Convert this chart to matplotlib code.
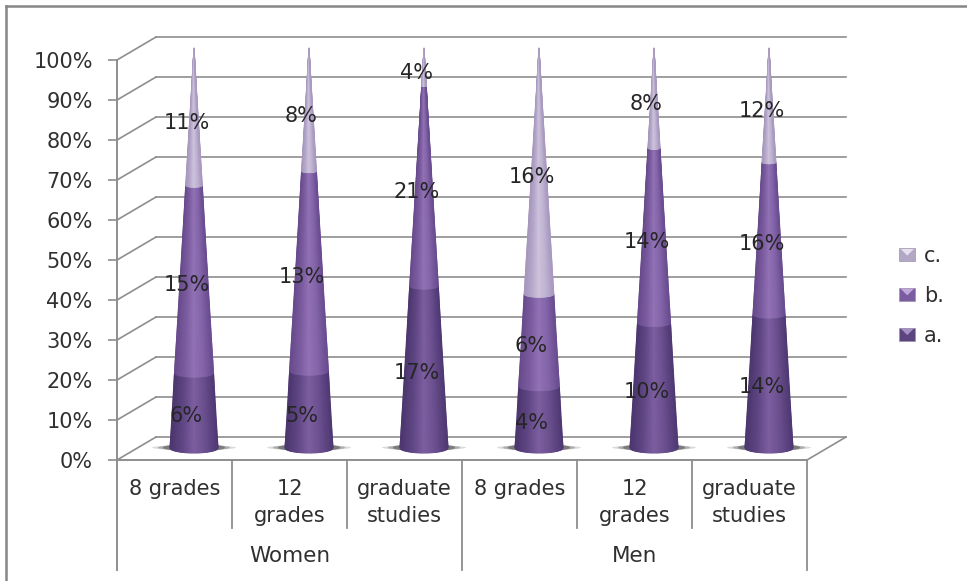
# -*- coding: utf-8 -*-
"""
plot.py: 100% stacked cones, with a fake 3D box drawn by hand
"""

import numpy as np
import matplotlib
matplotlib.use('Agg')
from matplotlib import pyplot as plt
from matplotlib.colors import LinearSegmentedColormap
from matplotlib.legend_handler import HandlerBase
from matplotlib.lines import Line2D
from matplotlib.patches import Ellipse, Polygon, Rectangle

groups = ['Women', 'Men']
categories = ['8 grades', '12\ngrades', 'graduate\nstudies',
              '8 grades', '12\ngrades', 'graduate\nstudies']
series_names = ['a.', 'b.', 'c.']
a_values = [6, 5, 17, 4, 10, 14]
b_values = [15, 13, 21, 6, 14, 16]
c_values = [11, 8, 4, 16, 8, 12]
y_ticks = [0, 10, 20, 30, 40, 50, 60, 70, 80, 90, 100]

W, H = 967, 581
PX_X = 115.0  # pixels per category
PX_Y = 4.0    # pixels per percent
GREY = '#8e8e8e'
TEXT = '#303030'
FS = 15

# edge, middle, edge colours of each series
shades = {
    'a.': ['#4c366e', '#5f4684', '#7d5fa1', '#6a4f8e', '#4f3973'],
    'b.': ['#674a8c', '#7a5b9f', '#9272b5', '#8465a9', '#6a4c90'],
    'c.': ['#a596bd', '#b5a8ca', '#cdc3dc', '#c0b4d2', '#a899c0'],
}

fig = plt.figure(figsize=(W / 100, H / 100), dpi=100)
ax = fig.add_axes([117 / W, 1 - 460 / H, 690 / W, 400 / H])
ax.set_xlim(0, 6)
ax.set_ylim(0, 100)
ax.patch.set_alpha(0)

# outer frame, only left and top are visible
fig.add_artist(Line2D([6 / W, 6 / W], [0, 1 - 6 / H], color='#868686', lw=1.8))
fig.add_artist(Line2D([6 / W, 1], [1 - 6 / H, 1 - 6 / H], color='#868686', lw=1.8))

# depth of the box
dx = 39 / PX_X
dy = 23 / PX_Y

# back wall, side wall and floor
for t in y_ticks:
    ax.plot([dx, 6 + dx], [t + dy, t + dy], color=GREY, lw=1.2, clip_on=False, zorder=1)
    ax.plot([0, dx], [t, t + dy], color=GREY, lw=1.2, clip_on=False, zorder=1)
ax.plot([6, 6 + dx], [0, dy], color=GREY, lw=1.2, clip_on=False, zorder=1)

# left axis and front edge
for name in ['top', 'right']:
    ax.spines[name].set_visible(False)
ax.spines['left'].set_color(GREY)
ax.spines['left'].set_linewidth(1.4)
ax.spines['left'].set_bounds(-27.5, 100)
ax.spines['bottom'].set_color(GREY)
ax.spines['bottom'].set_linewidth(1.4)
ax.set_yticks(y_ticks)
ax.set_yticklabels(['%d%%' % t for t in y_ticks], fontsize=FS, color=TEXT)
ax.tick_params(axis='y', length=6.5, width=1.2, color=GREY, pad=11)
ax.set_xticks([])

# two level category axis
for i in range(1, 7):
    low = -27.5 if i in (3, 6) else -17
    ax.plot([i, i], [0, low], color=GREY, lw=1.3, clip_on=False)
for i, label in enumerate(categories):
    ax.text(i + 0.5, -4.8, label, ha='center', va='top', fontsize=FS, color=TEXT,
            linespacing=1.4, clip_on=False)
for i, label in enumerate(groups):
    ax.text(1.5 + 3 * i, -24, label, ha='center', va='center', fontsize=FS + 0.5, color=TEXT,
            clip_on=False)

# cones sit in the middle of the box depth
half_w = 24 / PX_X
ell = 5 / PX_Y
u = np.linspace(-1, 1, 41)
cone_dx = dx / 2
cone_dy = 12 / PX_Y


def draw_segment(cx, f0, f1, name):
    # one row of columns from bottom rim to top rim, so the sides stay straight
    fs = np.array([f0, f1])
    xx = np.zeros((2, u.size))
    yy = np.zeros((2, u.size))
    for k, f in enumerate(fs):
        shrink = 1 - f / 100.0
        xx[k] = cx + half_w * shrink * u
        yy[k] = cone_dy + f - ell * shrink * np.sqrt(1 - u ** 2)
    cc = np.tile((u + 1) / 2, (2, 1))
    cmap = LinearSegmentedColormap.from_list(name, shades[name])
    ax.pcolormesh(xx, yy, cc, cmap=cmap, vmin=0, vmax=1, shading='gouraud',
                  zorder=3, clip_on=False)


stack = np.array([a_values, b_values, c_values], dtype=float)
totals = stack.sum(axis=0)
shares = stack / totals * 100
tops = shares.cumsum(axis=0)

for i in range(len(categories)):
    cx = i + 0.5 + cone_dx
    # soft shadow on the floor
    for w_px, h_px, al in [(84, 5, 0.18), (72, 6, 0.28), (62, 8, 0.40)]:
        ax.add_patch(Ellipse((cx, cone_dy + 0.1), w_px / PX_X, h_px / PX_Y, fc='#333333',
                             ec='none', alpha=al, zorder=2, clip_on=False))
    bottom = 0.0
    for j, name in enumerate(series_names):
        draw_segment(cx, bottom, tops[j, i], name)
        # labels sit a bit in front of the segment middle
        ax.text(i + 0.5 + 12 / PX_X, (bottom + tops[j, i]) / 2 + 1.5, '%d%%' % stack[j, i],
                ha='center', va='center', fontsize=FS, color='#262626', zorder=5, clip_on=False)
        bottom = tops[j, i]


class EnvelopeHandler(HandlerBase):
    # small square with a lighter triangle on its top edge
    def create_artists(self, legend, orig_handle, xdescent, ydescent, width, height,
                       fontsize, trans):
        body, light = orig_handle
        rect = Rectangle((-xdescent, -ydescent), width, height, fc=body, ec='#9a93a8',
                         lw=0.5, transform=trans)
        tri = Polygon([(-xdescent + 1, -ydescent + height - 0.5),
                       (-xdescent + width - 1, -ydescent + height - 0.5),
                       (-xdescent + width / 2, -ydescent + height * 0.45)],
                      fc=light, ec='none', transform=trans)
        return [rect, tri]


legend_handles = [('#b3a7c6', '#e6e0ee'), ('#7c5ca1', '#c0a8dc'), ('#5c4480', '#a58fc4')]
leg = ax.legend(legend_handles, series_names[::-1],
                handler_map={tuple: EnvelopeHandler()},
                loc='center left', bbox_to_anchor=(893 / W, 1 - 296 / H),
                bbox_transform=fig.transFigure, frameon=False, fontsize=FS,
                handlelength=0.77, handleheight=0.6, handletextpad=0.42,
                labelspacing=0.95, borderpad=0, borderaxespad=0.3)
for txt in leg.get_texts():
    txt.set_color(TEXT)

fig.savefig('out.png', dpi=100)
